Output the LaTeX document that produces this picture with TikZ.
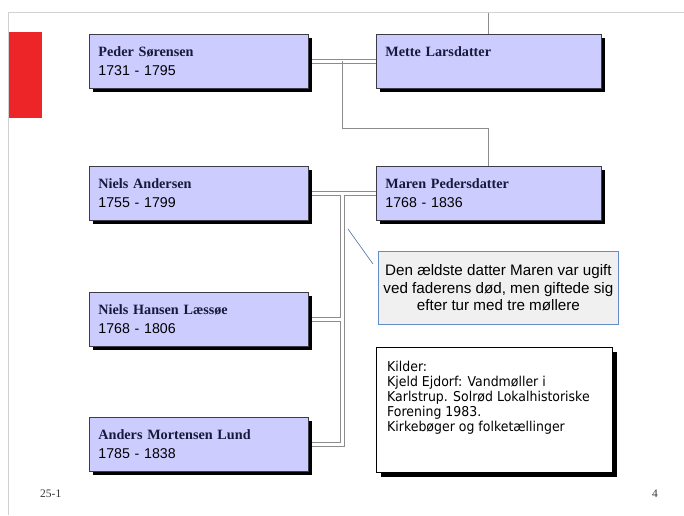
\documentclass[tikz,border=0pt]{standalone}
\usepackage{fontspec}
\setmainfont{Liberation Sans}
\newfontfamily\namefamily{Liberation Serif}
\newfontfamily\kilderfamily{DejaVu Sans}[FakeStretch=0.92]
\usetikzlibrary{shadows,backgrounds,calc}

\definecolor{lavender}{RGB}{204,204,255}
\definecolor{boxline}{RGB}{60,60,70}
\definecolor{namecolor}{RGB}{25,25,60}
\definecolor{linegray}{RGB}{140,140,140}
\definecolor{notefill}{RGB}{240,240,240}
\definecolor{noteline}{RGB}{100,140,200}
\definecolor{pointer}{RGB}{80,110,160}
\definecolor{slidered}{RGB}{237,36,40}

\newcommand\pname[1]{{\namefamily\bfseries\color{namecolor}#1}}

\begin{document}
\begin{tikzpicture}[x=1pt,y=-1pt,
    shade box/.style={drop shadow={shadow xshift=4pt,shadow yshift=-4pt,fill=black,opacity=1}},
    person/.style={draw=boxline,fill=lavender,line width=0.8pt,anchor=north west,
        minimum height=54pt,inner xsep=9pt,inner ysep=0pt,align=left,shade box,
        font=\fontsize{14.2}{19}\selectfont},
    kinline/.style={draw=linegray,line width=1pt},
    marriage/.style={draw=linegray,line width=1pt,double=white,double distance=2.2pt}]
    \useasboundingbox (0,0) rectangle (684,515);

    % slide frame
    \draw[gray!35,line width=0.8pt] (8,515) -- (8,12) -- (684,12);
    \fill[slidered] (9,32) rectangle (42,118);
    \coordinate (Top) at (0,12);

    \node[person,text width=201pt] (Peder) at (89,34) {\pname{Peder Sørensen}\\1731 - 1795};
    \node[person,text width=207pt] (Mette) at (376,34) {\pname{Mette Larsdatter}\\\phantom{0}};

    \node[person,text width=201pt] (Niels) at (89,166) {\pname{Niels Andersen}\\1755 - 1799};
    \node[person,text width=207pt] (Maren) at (376,166) {\pname{Maren Pedersdatter}\\1768 - 1836};

    \node[person,text width=201pt] (Hansen) at (89,292) {\pname{Niels Hansen Læssøe}\\1768 - 1806};
    \node[person,text width=201pt] (Anders) at (89,417) {\pname{Anders Mortensen Lund}\\1785 - 1838};

    \node[draw=noteline,fill=notefill,line width=0.8pt,anchor=north west,
        minimum width=240pt,minimum height=73pt,align=center,
        font=\fontsize{15.2}{17.5}\selectfont] (Note) at (378,251)
        {Den ældste datter Maren var ugift\\ved faderens død, men giftede sig\\efter tur med tre møllere};

    \node[draw=black,fill=white,line width=1pt,anchor=north west,shade box,
        minimum width=236pt,minimum height=125pt] (Kilder) at (376,347) {};
    \node[anchor=north west,inner sep=0pt,align=left,
        font=\kilderfamily\fontsize{13.6}{15}\selectfont] (KilderText) at ($(Kilder.north west)+(11,14)$)
        {Kilder:\\Kjeld Ejdorf: Vandmøller i\\Karlstrup. Solrød Lokalhistoriske\\Forening 1983.\\Kirkebøger og folketællinger};

    \node[anchor=west,inner sep=0pt,font=\namefamily\fontsize{11.5}{12}\selectfont,text=black!80] (Slide) at (40,494) {25-1};
    \node[anchor=west,inner sep=0pt,font=\namefamily\fontsize{11.5}{12}\selectfont,text=black!80] (Page) at (652,494) {4};

    \coordinate (Wed1) at ($(Peder.east)!0.5!(Mette.west)$);
    \coordinate (Wed2) at ($(Niels.east)!0.5!(Maren.west)$);
    \coordinate (Tip) at ($(Note.north west)+(-5,13)$);

    \begin{scope}[on background layer]
        \draw[kinline] (Top -| Mette.north) -- (Mette.north);
        \draw[marriage] (Peder.east) -- (Mette.west);
        \draw[kinline] (Wed1) -- ++(0,67) -| (Maren.north);
        \draw[marriage] (Niels.east) -- (Maren.west)
            (Wed2) |- (Anders.east)
            (Hansen.east) -- (Hansen.east -| Wed2);
    \end{scope}
    \draw[pointer,line width=0.6pt] (348,229) coordinate (Mark) -- (Tip);
\end{tikzpicture}
\end{document}
